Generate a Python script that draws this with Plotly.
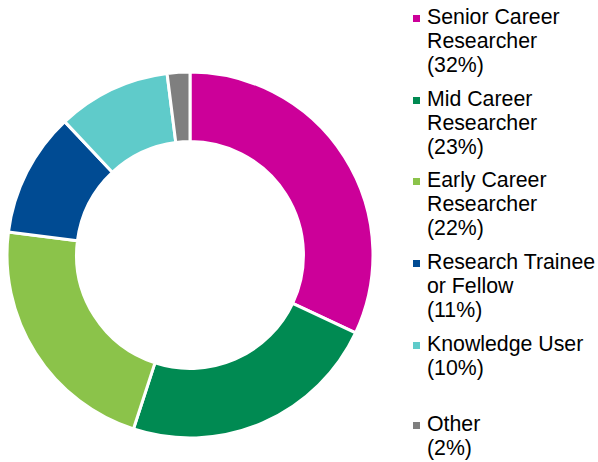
import plotly.graph_objects as go

categories = ["Senior Career Researcher", "Mid Career Researcher", "Early Career Researcher",
              "Research Trainee or Fellow", "Knowledge User", "Other"]
values = [32, 23, 22, 11, 10, 2]
colors = ["#CC0099", "#008A52", "#8BC34A", "#004B93", "#5FCBCA", "#7F7F7F"]
legend_lines = [
    ["Senior Career", "Researcher"],
    ["Mid Career", "Researcher"],
    ["Early Career", "Researcher"],
    ["Research Trainee", "or Fellow"],
    ["Knowledge User"],
    ["Other"],
]

W, H = 598, 462
fig = go.Figure(go.Pie(
    labels=categories, values=values, sort=False, direction="clockwise", rotation=0,
    hole=0.62, textinfo="none", hoverinfo="label+percent",
    marker=dict(colors=colors, line=dict(color="white", width=3)),
    domain=dict(x=[7 / W, 373 / W], y=[1 - 438 / H, 1 - 72 / H]),
    showlegend=False,
))

annotations = []
shapes = []
font = dict(family="Liberation Sans, Arial, sans-serif", size=21.3, color="#000000")
first_line = [17, 99, 180, 262, 344, 424]
line_h = 24
for i, (lines, v, c) in enumerate(zip(legend_lines, values, colors)):
    y0 = first_line[i]
    all_lines = lines + [f"({v}%)"]
    for j, t in enumerate(all_lines):
        annotations.append(dict(
            text=t, x=426 / W, y=1 - (y0 + j * line_h) / H, xref="paper", yref="paper",
            xanchor="left", yanchor="middle", showarrow=False, font=font, borderpad=0,
        ))
    shapes.append(dict(type="rect", xref="paper", yref="paper",
                       x0=413 / W, x1=420 / W, y0=1 - (y0 + 5) / H, y1=1 - (y0 - 2) / H,
                       fillcolor=c, line=dict(width=0)))

fig.update_layout(
    width=W, height=H, margin=dict(l=0, r=0, t=0, b=0),
    paper_bgcolor="white", plot_bgcolor="white",
    annotations=annotations, shapes=shapes,
)
fig.write_html("out.html", config={"displayModeBar": False},
               post_script="document.body.style.margin='0';document.body.style.overflow='hidden';")
